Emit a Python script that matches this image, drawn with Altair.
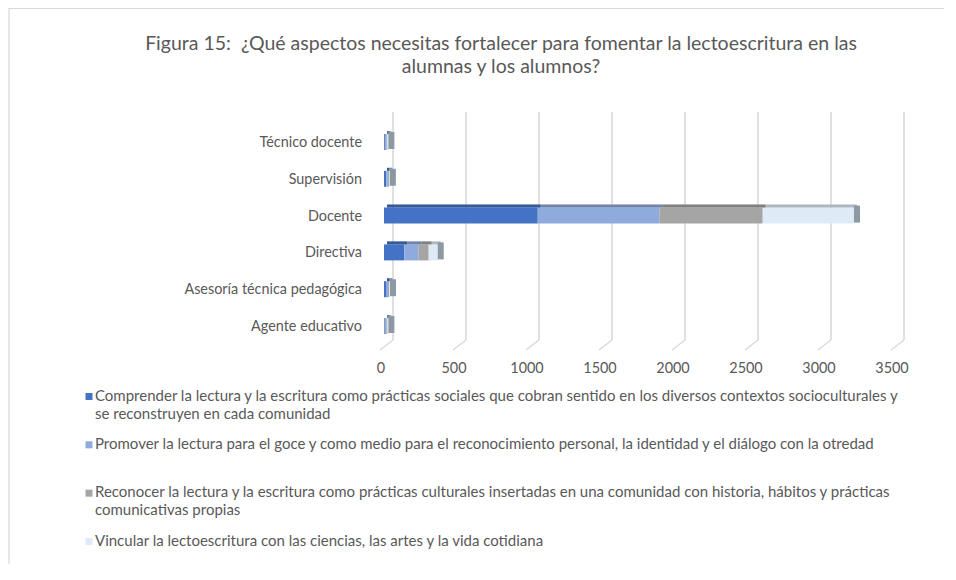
import altair as alt
import pandas as pd

categories = ["Técnico docente", "Supervisión", "Docente", "Directiva",
              "Asesoría técnica pedagógica", "Agente educativo"]
series = [
    "Comprender la lectura y la escritura como prácticas sociales que cobran sentido en los diversos contextos socioculturales y se reconstruyen en cada comunidad",
    "Promover la lectura para el goce y como medio para el reconocimiento personal, la identidad y el diálogo con la otredad",
    "Reconocer la lectura y la escritura como prácticas culturales insertadas en una comunidad con historia, hábitos y prácticas comunicativas propias",
    "Vincular la lectoescritura con las ciencias, las artes y la vida cotidiana",
]
legend_lines = [
    ["Comprender la lectura y la escritura como prácticas sociales que cobran sentido en los diversos contextos socioculturales y",
     "se reconstruyen en cada comunidad"],
    ["Promover la lectura para el goce y como medio para el reconocimiento personal, la identidad y el diálogo con la otredad"],
    ["Reconocer la lectura y la escritura como prácticas culturales insertadas en una comunidad con historia, hábitos y prácticas",
     "comunicativas propias"],
    ["Vincular la lectoescritura con las ciencias, las artes y la vida cotidiana"],
]
s1 = [6, 16, 1053, 139, 18, 5]
s2 = [10, 10, 833, 96, 9, 11]
s3 = [8, 8, 708, 71, 8, 8]
s4 = [6, 6, 625, 62, 6, 6]
ticks = [0, 500, 1000, 1500, 2000, 2500, 3000, 3500]
colors = ["#4472C4", "#8FAADC", "#A5A5A5", "#DEEBF7"]
title_lines = ["Figura 15: \u00a0¿Qué aspectos necesitas fortalecer para fomentar la lectoescritura en las",
               "alumnas y los alumnos?"]

FONT = "Lato"
TXT = "#595959"
GRID = "#d9d9d9"

rows = []
for k, vals in enumerate([s1, s2, s3, s4]):
    for c, v in zip(categories, vals):
        rows.append({"cat": c, "serie": series[k], "k": k, "value": v})
df = pd.DataFrame(rows)
df_ticks = pd.DataFrame({"tick": ticks, "lab": [str(t) for t in ticks]})
df_cat = pd.DataFrame({"cat": categories})
df_leg = pd.DataFrame({"serie": series, "txt": ["\n".join(l) for l in legend_lines]})
df_one = pd.DataFrame({"a": [0]})

xs = alt.Scale(domain=[0, 3500], range=[376, 887], nice=False, zero=True)
ys = alt.Scale(type="band", domain=categories, range=[116.6, 337.4], paddingInner=0, paddingOuter=0)
cs = alt.Scale(domain=series, range=colors)
ls = alt.Scale(type="point", domain=series, range=[388.5, 533.5], padding=0)

Y = alt.Y("cat:N", scale=ys, axis=None)
X = alt.X("value:Q", scale=xs, axis=None, stack="zero")

border_top = alt.Chart(df_one).mark_rule(color=GRID, strokeWidth=1.2).encode(
    x=alt.value(1), x2=alt.value(960), y=alt.value(0.5))
border_left = alt.Chart(df_one).mark_rule(color=GRID, strokeWidth=1.2).encode(
    x=alt.value(1), y=alt.value(0), y2=alt.value(600))

grid = alt.Chart(df_ticks).mark_rule(color=GRID, strokeWidth=1.6, xOffset=9).encode(
    x=alt.X("tick:Q", scale=xs, axis=None), y=alt.value(104), y2=alt.value(332))
feet = alt.Chart(df_ticks).mark_rule(color=GRID, strokeWidth=1.4, xOffset=9, x2Offset=-4).encode(
    x=alt.X("tick:Q", scale=xs, axis=None), x2="tick:Q", y=alt.value(332), y2=alt.value(342))
tick_labels = alt.Chart(df_ticks).mark_text(font=FONT, fontSize=14.4, color=TXT, dx=-3,
                                            baseline="middle", align="center").encode(
    x=alt.X("tick:Q", scale=xs, axis=None), y=alt.value(361), text="lab:N")

bars = alt.Chart(df).mark_bar(size=16, yOffset=-1).encode(
    y=Y, x=X,
    color=alt.Color("serie:N", scale=cs, legend=None),
    order=alt.Order("k:Q"))
tops = alt.Chart(df).mark_bar(size=3, yOffset=-10.5, xOffset=3, x2Offset=3).encode(
    y=Y, x=X,
    color=alt.Color("serie:N", scale=cs, legend=None),
    order=alt.Order("k:Q"))
tops_dark = alt.Chart(df).mark_bar(size=3, yOffset=-10.5, xOffset=3, x2Offset=3,
                                   color="black", opacity=0.22).encode(
    y=Y, x=X, detail="serie:N", order=alt.Order("k:Q"))
caps = alt.Chart(df).transform_aggregate(total="sum(value)", groupby=["cat"]).mark_bar(
    size=17, yOffset=-2.5, x2Offset=6, color="#8d98a5").encode(
    y=Y, x=alt.X("total:Q", scale=xs, axis=None), x2="total:Q")

cat_labels = alt.Chart(df_cat).mark_text(font=FONT, fontSize=14.4, color=TXT, align="right",
                                         baseline="middle").encode(
    x=alt.value(354), y=Y, text="cat:N")

title = alt.Chart(df_one).mark_text(font=FONT, fontSize=19.5, color=TXT, align="center",
                                    baseline="top", lineBreak="\n", lineHeight=23,
                                    text="\n".join(title_lines)).encode(
    x=alt.value(493), y=alt.value(26.5))

leg_sym = alt.Chart(df_leg).mark_square(size=49, opacity=1).encode(
    x=alt.value(81), y=alt.Y("serie:N", scale=ls, axis=None),
    color=alt.Color("serie:N", scale=cs, legend=None))
leg_txt = alt.Chart(df_leg).mark_text(font=FONT, fontSize=15, color=TXT, align="left",
                                      baseline="top", dy=-8, lineBreak="\n", lineHeight=18).encode(
    x=alt.value(87), y=alt.Y("serie:N", scale=ls, axis=None), text="txt:N")

chart = alt.layer(
    border_top, border_left, grid, feet, tick_labels,
    bars, tops, tops_dark, caps, cat_labels, title, leg_sym, leg_txt
).resolve_scale(y="independent").properties(
    width=936, height=556,
    autosize=alt.AutoSizeParams(type="none"),
    padding=0,
    background="white",
).configure_view(stroke=None)

chart.save("out.html", embed_options={"renderer": "svg", "actions": False})
